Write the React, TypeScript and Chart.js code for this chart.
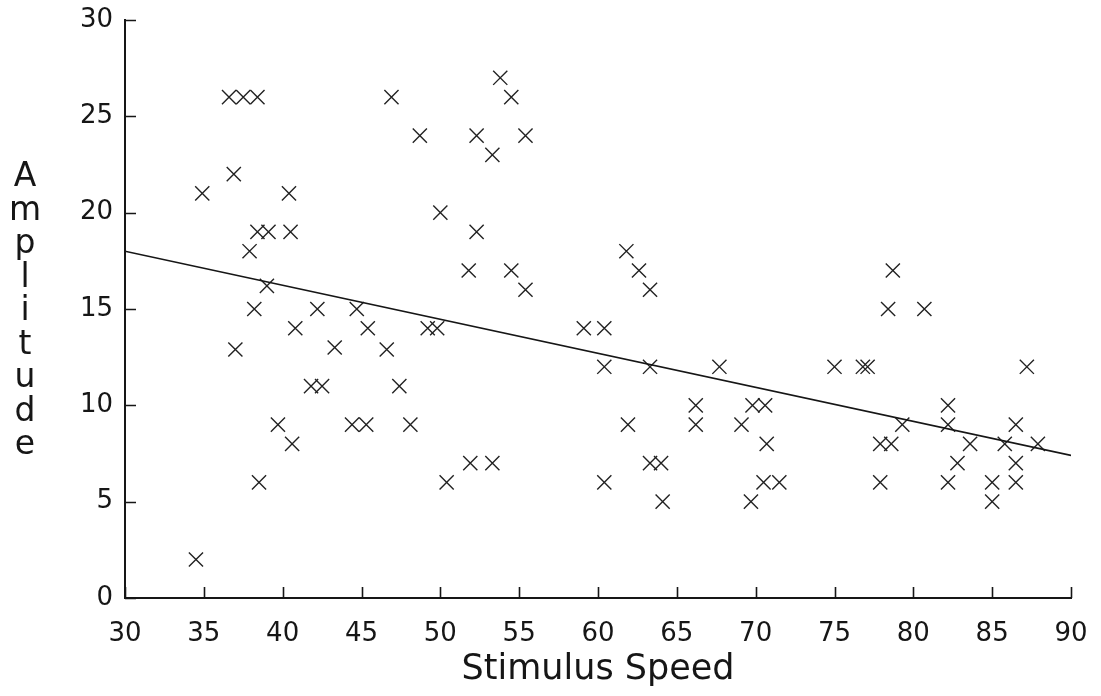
import React, { useEffect, useRef } from 'react';
import { Chart, registerables } from 'chart.js';

Chart.register(...registerables);

// Stimulus speed (x) and amplitude (y) of each plotted observation
const speedX = [
  36.6, 37.5, 38.4, 46.9, 48.7, 36.9, 34.9, 40.4, 50.0, 38.4,
  39.1, 40.5, 37.9, 39.0, 38.2, 42.2, 44.7, 40.8, 45.4, 49.2,
  49.8, 37.0, 43.3, 46.6, 41.8, 42.5, 47.4, 39.7, 44.4, 45.3,
  48.1, 40.6, 38.5, 50.4, 34.5, 53.8, 54.5, 52.3, 55.4, 53.3,
  52.3, 51.8, 54.5, 55.4, 61.8, 62.6, 63.3, 59.1, 60.4, 60.4,
  63.3, 67.7, 66.2, 66.2, 61.9, 69.1, 69.8, 70.6, 51.9, 53.3,
  60.4, 63.3, 64.0, 64.1, 69.7, 70.7, 70.5, 71.5, 78.4, 80.7,
  75.0, 76.8, 77.1, 87.2, 79.3, 77.9, 78.6, 77.9, 82.2, 82.2,
  83.6, 82.8, 82.2, 86.5, 85.8, 87.9, 86.5, 85.0, 86.5, 85.0,
  78.7,
];
const amplitudeY = [
  26, 26, 26, 26, 24, 22, 21, 21, 20, 19,
  19, 19, 18, 16.2, 15, 15, 15, 14, 14, 14,
  14, 12.9, 13, 12.9, 11, 11, 11, 9, 9, 9,
  9, 8, 6, 6, 2, 27, 26, 24, 24, 23,
  19, 17, 17, 16, 18, 17, 16, 14, 14, 12,
  12, 12, 10, 9, 9, 9, 10, 10, 7, 7,
  6, 7, 7, 5, 5, 8, 6, 6, 15, 15,
  12, 12, 12, 12, 9, 8, 8, 6, 10, 9,
  8, 7, 6, 9, 8, 8, 7, 6, 6, 5,
  17,
];

// Regression line end points
const fitX = [30, 90];
const fitY = [18.0, 7.4];

// Axis ranges / ticks
const xMin = 30;
const xMax = 90;
const xStep = 5;
const yMin = 0;
const yMax = 30;
const yStep = 5;

const xTitle = 'Stimulus Speed';
const yTitleLetters = ['A', 'm', 'p', 'l', 'i', 't', 'u', 'd', 'e'];

const FONT = '"DejaVu Sans", "Liberation Sans", sans-serif';
const INK = '#161616';

const inwardTicksAndTitle = {
  id: 'inwardTicksAndTitle',
  afterDraw(chart: any) {
    const ctx = chart.ctx;
    const xs = chart.scales.x;
    const ys = chart.scales.y;
    const len = 11;
    ctx.save();
    ctx.strokeStyle = INK;
    ctx.lineWidth = 1.6;
    ctx.beginPath();
    xs.ticks.forEach((t: any) => {
      const px = Math.round(xs.getPixelForValue(t.value)) + 0.5;
      ctx.moveTo(px, xs.top);
      ctx.lineTo(px, xs.top - len);
    });
    ys.ticks.forEach((t: any) => {
      const py = Math.round(ys.getPixelForValue(t.value)) + 0.5;
      ctx.moveTo(ys.right, py);
      ctx.lineTo(ys.right + len, py);
    });
    ctx.stroke();

    ctx.fillStyle = INK;
    ctx.font = `33px ${FONT}`;
    ctx.textAlign = 'center';
    ctx.textBaseline = 'alphabetic';
    yTitleLetters.forEach((ch, i) => {
      ctx.fillText(ch, 25, 186 + i * 33.5);
    });
    ctx.restore();
  },
};

const zeroPadding = (s: any) => {
  s.paddingTop = 0;
  s.paddingBottom = 0;
  s.paddingLeft = 0;
  s.paddingRight = 0;
};

export default function App() {
  const canvasRef = useRef<HTMLCanvasElement | null>(null);

  useEffect(() => {
    const canvas = canvasRef.current;
    if (!canvas) return;
    const points = speedX.map((x, i) => ({ x, y: amplitudeY[i] }));
    const fit = fitX.map((x, i) => ({ x, y: fitY[i] }));

    const chart = new Chart(canvas, {
      type: 'scatter',
      data: {
        datasets: [
          {
            type: 'line',
            label: 'fit',
            data: fit,
            borderColor: INK,
            borderWidth: 1.6,
            pointRadius: 0,
            fill: false,
            tension: 0,
          } as any,
          {
            label: 'observations',
            data: points,
            pointStyle: 'crossRot',
            pointRadius: 10,
            pointBorderWidth: 1.4,
            borderColor: '#222',
            backgroundColor: '#222',
            pointHoverRadius: 10,
          },
        ],
      },
      options: {
        animation: false,
        responsive: false,
        devicePixelRatio: 1,
        events: [],
        layout: { padding: { left: 0, right: 30, top: 20, bottom: 0 } },
        plugins: {
          legend: { display: false },
          tooltip: { enabled: false },
        },
        scales: {
          x: {
            type: 'linear',
            min: xMin,
            max: xMax,
            afterFit: (s: any) => {
              s.height = 98;
              zeroPadding(s);
            },
            ticks: {
              stepSize: xStep,
              color: INK,
              padding: 21,
              font: { family: FONT, size: 26 },
              maxRotation: 0,
              autoSkip: false,
            },
            grid: { display: true, drawOnChartArea: false, drawTicks: false },
            border: { display: true, color: INK, width: 2 },
            title: {
              display: true,
              text: xTitle,
              color: INK,
              font: { family: FONT, size: 35 },
              padding: { top: 0, bottom: 5 },
            },
          },
          y: {
            type: 'linear',
            min: yMin,
            max: yMax,
            afterFit: (s: any) => {
              s.width = 125;
              zeroPadding(s);
            },
            ticks: {
              stepSize: yStep,
              color: INK,
              padding: 12,
              font: { family: FONT, size: 26 },
            },
            grid: { display: true, drawOnChartArea: false, drawTicks: false },
            border: { display: true, color: INK, width: 2 },
          },
        },
      },
      plugins: [inwardTicksAndTitle],
    });
    return () => chart.destroy();
  }, []);

  return (
    <div style={{ position: 'fixed', left: 0, top: 0, width: 1101, height: 696, background: '#fff' }}>
      <canvas ref={canvasRef} width={1101} height={696} style={{ display: 'block' }} />
    </div>
  );
}
